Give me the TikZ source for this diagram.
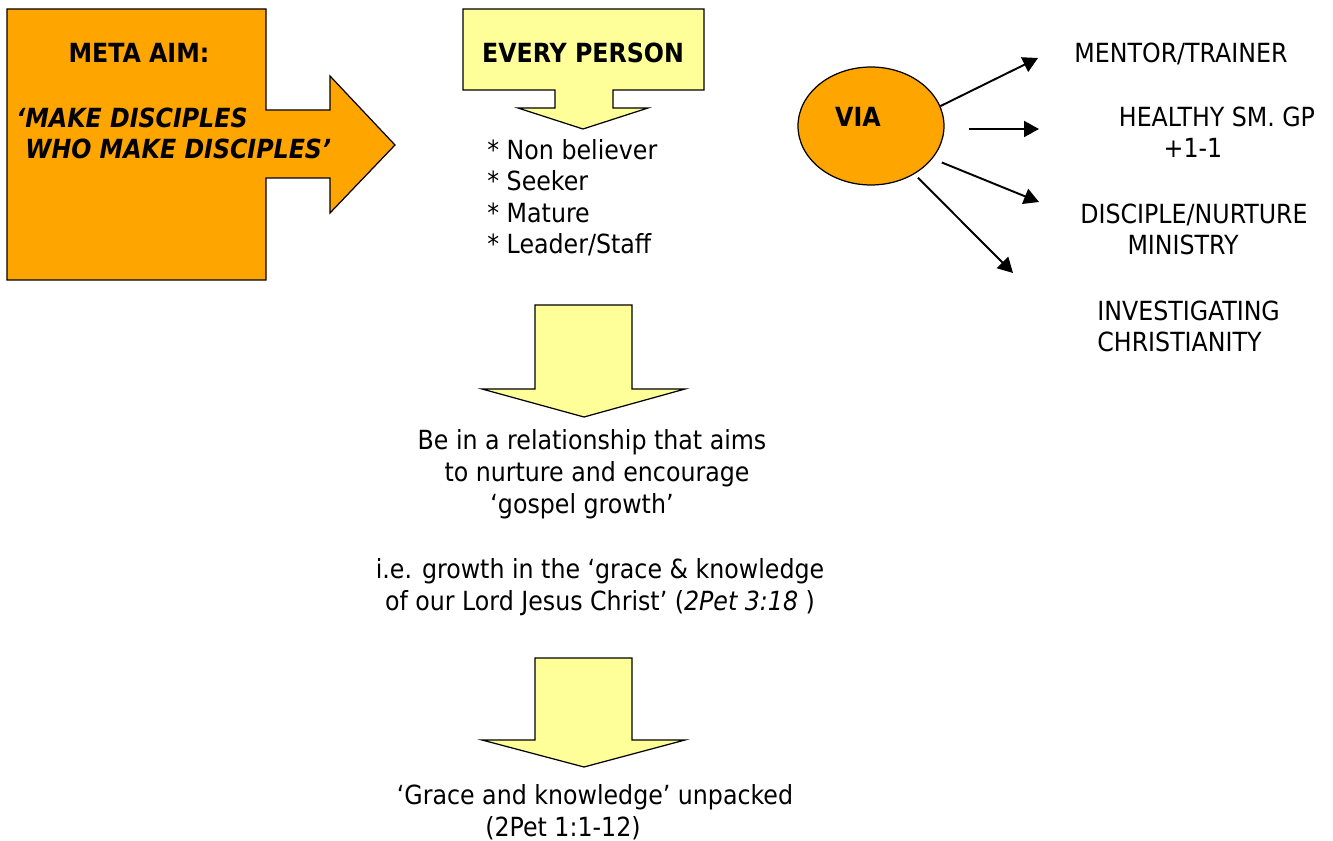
\documentclass[tikz,border=0pt]{standalone}
\usepackage{fontspec}
\setmainfont{DejaVu Sans Condensed}
\usepackage{tikz}
\usetikzlibrary{shapes.geometric}
\usetikzlibrary{positioning}
\usetikzlibrary{arrows.meta}
\definecolor{aimorange}{HTML}{FFA500}
\definecolor{paleyellow}{HTML}{FFFF99}

\begin{document}
\begin{tikzpicture}
			[
				x = 0.02cm, y = -0.02cm,
				txt/.style = {font = \fontsize{15}{18}\selectfont, inner sep = 0pt, anchor = base},
				bold/.style = {txt, font = \fontsize{15}{18}\selectfont\bfseries},
				bigarrow/.style = {draw = black, line width = 0.7pt, fill = aimorange},
				downarrow/.style = {draw = black, line width = 0.7pt, fill = paleyellow},
				bubble/.style = {ellipse, draw = black, line width = 0.7pt, fill = aimorange, minimum width = 2.92cm, minimum height = 2.36cm, inner sep = 0pt},
				link/.style = {line width = 1.1pt, -{Triangle[length = 0.3cm, width = 0.32cm]}},
			]
			\useasboundingbox (0,0) rectangle (1333,841);
			\draw [bigarrow] (7,9) -- (266,9) -- (266,110) -- (330,110) -- (330,76) -- (395,145) -- (330,213) -- (330,178) -- (266,178) -- (266,280) -- (7,280) -- cycle;
			\draw [downarrow] (463,9) -- (704,9) -- (704,90) -- (613,90) -- (613,108) -- (648,108) -- (583,129) -- (518,108) -- (555,108) -- (555,90) -- (463,90) -- cycle;
			\draw [downarrow] (535,305) -- (632,305) -- (632,389) -- (685,389) -- (584,417) -- (482,389) -- (535,389) -- cycle;
			\draw [downarrow] (535,658) -- (632,658) -- (632,740) -- (685,740) -- (584,767) -- (482,740) -- (535,740) -- cycle;
			\node (meta) [bold] at (139,63) {META AIM:};
			\node (motto) [bold, font = \fontsize{15}{18}\selectfont\bfseries\itshape, align = left, anchor = base west] at (16,159) {‘MAKE DISCIPLES\\\hspace*{0.18cm}WHO MAKE DISCIPLES’};
			\node (every) [bold] at (583,63) {EVERY PERSON};
			\node (kinds) [txt, align = left, anchor = base west] at (487,254) {* Non believer\\* Seeker\\* Mature\\* Leader/Staff};
			\node (relate) [txt, align = center] at (592,513) {Be in a relationship that aims\\\hspace*{0.2cm}to nurture and encourage\\‘gospel growth’\hspace*{0.4cm}};
			\node (growth) [txt, align = center] at (600,610) {i.e. growth in the ‘grace \& knowledge\\of our Lord Jesus Christ’ (\textit{2Pet 3:18} )};
			\node (unpack) [txt, align = center] at (595,836) {‘Grace and knowledge’ unpacked\\(2Pet 1:1-12)\hspace*{1.28cm}};
			\node (via) [bubble] at (871,126) {};
			\node (viatext) [bold] at (858,127) {VIA};
			\node (mentor) [txt] at (1181,63) {MENTOR/TRAINER};
			\node (group) [txt, align = center] at (1217,158) {HEALTHY SM. GP\\+1-1\hspace*{0.96cm}};
			\node (nurture) [txt, align = center] at (1194,255) {DISCIPLE/NURTURE\\MINISTRY\hspace*{0.44cm}};
			\node (course) [txt, align = left, anchor = base west] at (1097,352) {INVESTIGATING\\CHRISTIANITY};
			\coordinate (t1) at (1038,58);
			\coordinate (t2) at (1039,129);
			\coordinate (t3) at (1039,202);
			\coordinate (t4) at (1013,273);
			\draw [link] (via.16) -- (t1);
			\draw [link] (via.east) ++(24,3) -- (t2);
			\draw [link, shorten <= 0.2cm] (via.-28) -- (t3);
			\draw [link, shorten <= 0.1cm] (via.-48) -- (t4);
		\end{tikzpicture}
\end{document}
